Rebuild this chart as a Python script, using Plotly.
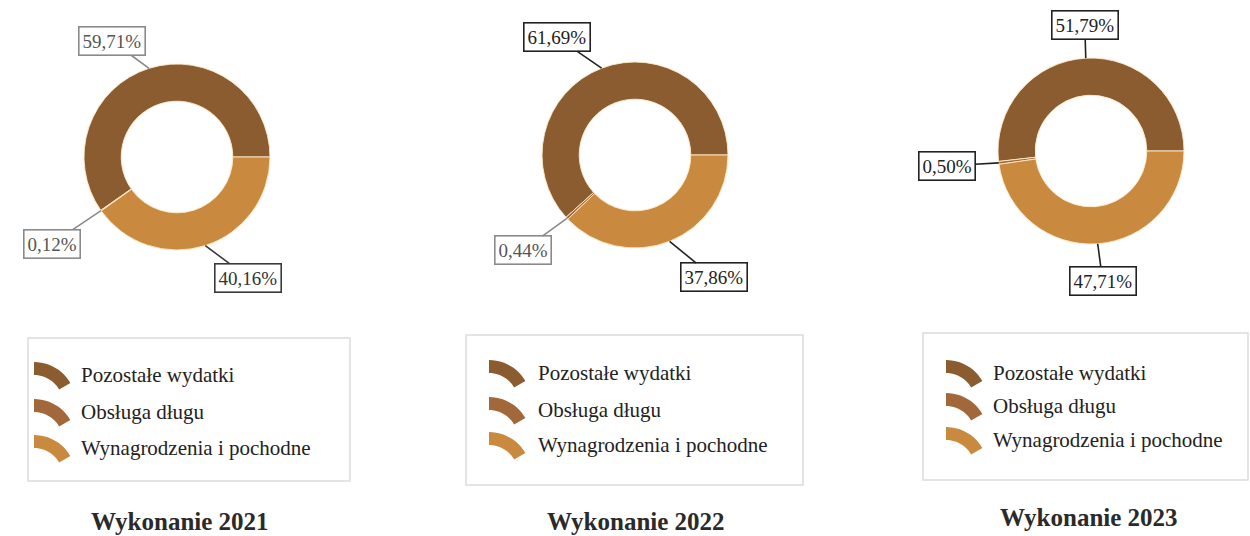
import math
import plotly.graph_objects as go

# ---------------- data ----------------
categories = ["Pozostałe wydatki", "Obsługa długu", "Wynagrodzenia i pochodne"]
years = ["2021", "2022", "2023"]
values_2021 = [59.71, 0.12, 40.16]
values_2022 = [61.69, 0.44, 37.86]
values_2023 = [51.79, 0.50, 47.71]
titles = ["Wykonanie 2021", "Wykonanie 2022", "Wykonanie 2023"]
series = [values_2021, values_2022, values_2023]

# ---------------- styling / layout ----------------
W, H = 1250, 536
colors = ["#8b5c30", "#a3683a", "#c98a40"]
FONT = "Liberation Serif, Times New Roman, serif"
centers = [(177, 157), (635, 155), (1091, 151)]   # px
R = 93
HOLE = 0.6
# label offsets (px) from arrow tip to label box centre
offsets = [
    [(-37, -27), (-49, 33), (43, 32)],
    [(-45, -31), (-44, 32), (44, 36)],
    [(-1, -33), (-52, 3), (5, 37)],
]
label_style = [
    [("#8a8a8a", "#555555"), ("#8a8a8a", "#555555"), ("#3a3a3a", "#333333")],
    [("#222222", "#222222"), ("#8a8a8a", "#555555"), ("#222222", "#222222")],
    [("#222222", "#222222"), ("#222222", "#222222"), ("#222222", "#222222")],
]
legend_boxes = [(28, 338, 350, 481), (466, 335, 803, 485), (923, 333, 1248, 480)]
legend_rows = [[375, 412, 448], [373, 410, 445], [373, 406, 440]]
icon_x = [34, 489, 946]
text_x = [79, 536, 991]
title_pos = [(180, 521), (636, 521), (1089, 517)]


def px(x):
    return x / W


def py(y):
    return 1 - y / H


fig = go.Figure()
annotations = []
shapes = []

for i, vals in enumerate(series):
    cx, cy = centers[i]
    total = sum(vals)
    # first slice starts at 3 o'clock and runs counterclockwise
    # (plotly: with counterclockwise direction the first slice ends at `rotation`)
    rot = 90 - vals[0] / total * 360.0
    fig.add_trace(go.Pie(
        labels=categories,
        values=vals,
        hole=HOLE,
        sort=False,
        direction="counterclockwise",
        rotation=rot,
        textinfo="none",
        marker=dict(colors=colors, line=dict(color="rgba(255,235,200,0.9)", width=1)),
        domain=dict(x=[px(cx - R), px(cx + R)], y=[py(cy + R), py(cy - R)]),
        showlegend=False,
        name=years[i],
    ))
    # labels with leader lines
    cum = 0.0
    for j, v in enumerate(vals):
        mid = (cum + v / 2) / total * 360.0  # degrees counterclockwise from 3 o'clock
        cum += v
        tx = cx + R * math.cos(math.radians(mid))
        ty = cy - R * math.sin(math.radians(mid))
        bc, tc = label_style[i][j]
        ax, ay = offsets[i][j]
        annotations.append(dict(
            x=px(tx), y=py(ty), xref="paper", yref="paper",
            text=f"{v:.2f}".replace(".", ",") + "%",
            showarrow=True, arrowhead=0, arrowwidth=1.6, arrowcolor=bc,
            ax=ax, ay=ay, standoff=0,
            bordercolor=bc, borderwidth=1.6, borderpad=3, bgcolor="white",
            font=dict(family=FONT, size=19, color=tc),
        ))

    # legend box
    x0, y0, x1, y1 = legend_boxes[i]
    shapes.append(dict(type="rect", xref="paper", yref="paper",
                       x0=px(x0), x1=px(x1), y0=py(y1), y1=py(y0),
                       line=dict(color="#dcdcdc", width=1.5), fillcolor="white"))
    for k, cat in enumerate(categories):
        ry = legend_rows[i][k]
        # arc icon (quarter annulus)
        ox = icon_x[i]
        Ro, Ri = 42, 29
        ocy = ry - 13 + Ro  # centre of arc
        pts = []
        angs = [90 - a * 60 / 12 for a in range(13)]
        for a in angs:
            pts.append((ox + Ro * math.cos(math.radians(a)), ocy - Ro * math.sin(math.radians(a))))
        for a in reversed(angs):
            pts.append((ox + Ri * math.cos(math.radians(a)), ocy - Ri * math.sin(math.radians(a))))
        path = "M " + " L ".join(f"{px(p[0]):.5f},{py(p[1]):.5f}" for p in pts) + " Z"
        shapes.append(dict(type="path", xref="paper", yref="paper", path=path,
                           fillcolor=colors[k], line=dict(width=0)))
        annotations.append(dict(
            x=px(text_x[i]), y=py(ry), xref="paper", yref="paper",
            xanchor="left", yanchor="middle", showarrow=False, text=cat,
            font=dict(family=FONT, size=21, color="#222222"),
        ))
    # title
    tx, ty = title_pos[i]
    annotations.append(dict(
        x=px(tx), y=py(ty), xref="paper", yref="paper",
        xanchor="center", yanchor="middle", showarrow=False,
        text=f"<b>{titles[i]}</b>",
        font=dict(family=FONT, size=25, color="#2a2a2a"),
    ))

fig.update_layout(
    width=W, height=H,
    margin=dict(l=0, r=0, t=0, b=0),
    paper_bgcolor="white", plot_bgcolor="white",
    annotations=annotations, shapes=shapes,
    showlegend=False,
)

fig.write_html("out.html")
